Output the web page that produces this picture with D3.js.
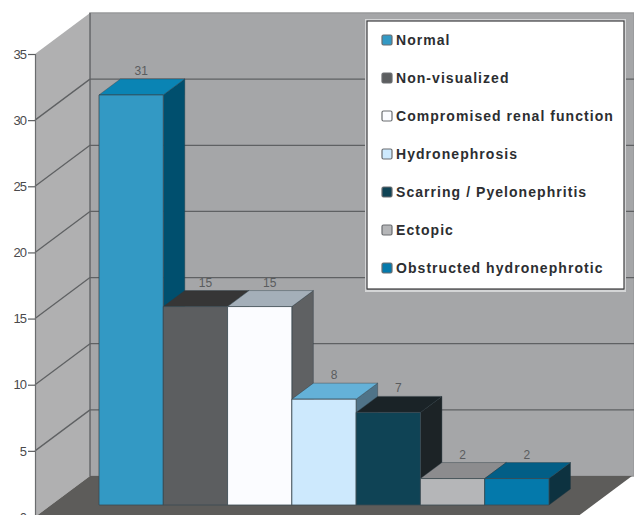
<!DOCTYPE html>
<html>
<head>
<meta charset="utf-8">
<script src="https://cdn.jsdelivr.net/npm/d3@7/dist/d3.min.js"></script>
<style>
html,body{margin:0;padding:0;background:#fff;overflow:hidden}
svg{display:block}
</style>
</head>
<body>
<svg id="chart" width="634" height="515"></svg>
<script>
const categories = ["Normal","Non-visualized","Compromised renal function","Hydronephrosis","Scarring / Pyelonephritis","Ectopic","Obstructed hydronephrotic"];
const counts = [31,15,15,8,7,2,2];
const axisTicks = [0,5,10,15,20,25,30,35];

const frontColors = ["#3399c4","#5c5e60","#fbfcff","#cde9fd","#0f4355","#b5b6b8","#0479ab"];
const topColors   = ["#0a84b4","#363636","#a4afb9","#64b1d8","#1a2327","#8c8c8e","#025e86"];
const sideColors  = ["#004f6e","#2c2d2e","#5f6163","#4f7388","#1c2326","#6a6a6c","#0d3240"];

const svg = d3.select("#chart");

// Wall scale runs along the front edge of the side wall; the back wall is that scale shifted by the depth.
const wallY = d3.scaleLinear().domain([0,35]).range([517,54]);
const wallDepth = {x:55, y:-41};
const barY = d3.scaleLinear().domain([0,35]).range([505,42]);
const barX = d3.scaleBand().domain(categories).range([99,549]);
const barDepth = {x:21.5, y:-16};
const frontLeft = 35, frontRight = 577;

const poly = (pts, fill, stroke, sw) => svg.append("polygon")
  .attr("points", pts.map(p => p.join(",")).join(" "))
  .attr("fill", fill).attr("stroke", stroke || "none").attr("stroke-width", sw || 0);

const backX = frontLeft + wallDepth.x;
const backBase = wallY(0) + wallDepth.y;
const backTop = wallY(35) + wallDepth.y;

// Back wall, side wall and floor
poly([[backX,backTop],[634,backTop],[634,backBase],[backX,backBase]], "#a5a6a8", "#98999b", 1.5);
poly([[frontLeft,wallY(35)],[backX,backTop],[backX,backBase],[frontLeft,wallY(0)]], "#b0b0b1");
poly([[frontLeft,wallY(0)],[backX,backBase],[frontRight+wallDepth.x,backBase],[frontRight,wallY(0)]], "#5d5c5a");

// Gridlines across the back wall and down the side wall
const grid = svg.append("g").attr("stroke","#5f6163").attr("stroke-width",1.3).attr("fill","none");
axisTicks.filter(t => t > 0 && t < 35).forEach(t => {
  const y = wallY(t);
  grid.append("line").attr("x1",frontLeft).attr("y1",y).attr("x2",backX).attr("y2",y+wallDepth.y);
  grid.append("line").attr("x1",backX).attr("y1",y+wallDepth.y).attr("x2",634).attr("y2",y+wallDepth.y);
});
grid.append("line").attr("x1",backX).attr("y1",backTop).attr("x2",backX).attr("y2",backBase);

// Value axis on the front edge of the side wall
const axis = svg.append("g").attr("transform",`translate(${frontLeft},0)`)
  .call(d3.axisLeft(wallY).tickValues(axisTicks).tickSize(7).tickPadding(2));
axis.select(".domain").attr("stroke","#6a6c6e").attr("stroke-width",1.2);
axis.selectAll(".tick line").attr("stroke","#5c5e60").attr("stroke-width",1.2);
axis.selectAll("text").attr("fill","#4a4a4c").style("font-family","'Liberation Sans',sans-serif")
  .style("font-size","13px").style("letter-spacing","-1px");

// Extruded bars, drawn left to right so nearer faces overlap correctly
categories.forEach((c,i) => {
  const x0 = barX(c), x1 = x0 + barX.bandwidth();
  const yT = barY(counts[i]), yB = barY(0);
  const dx = barDepth.x, dy = barDepth.y;
  poly([[x1,yT],[x1+dx,yT+dy],[x1+dx,yB+dy],[x1,yB]], sideColors[i], "#2a3a42", 0.4);
  poly([[x0,yT],[x0+dx,yT+dy],[x1+dx,yT+dy],[x1,yT]], topColors[i], "#2a3a42", 0.4);
  poly([[x0,yT],[x1,yT],[x1,yB],[x0,yB]], frontColors[i], "#3b4a52", 0.8);
});

// Value labels above each bar
svg.append("g").selectAll("text").data(categories).join("text")
  .attr("x", c => barX(c) + barX.bandwidth()/2 + 10)
  .attr("y", (c,i) => barY(counts[i]) - 20)
  .attr("text-anchor","middle")
  .attr("fill","#5a5c5e")
  .style("font-family","'Liberation Sans',sans-serif")
  .style("font-size","12px")
  .text((c,i) => counts[i]);

// Legend box with its pale outer edge
const legend = svg.append("g");
legend.append("rect").attr("x",366).attr("y",20).attr("width",259).attr("height",271)
  .attr("fill","none").attr("stroke","#d4d5d6").attr("stroke-width",2);
legend.append("rect").attr("x",367).attr("y",21).attr("width",257).attr("height",268)
  .attr("fill","#fff").attr("stroke","#3c3d3f").attr("stroke-width",1.2);
const legendY = d3.scalePoint().domain(categories).range([40,268]);
const rows = legend.selectAll("g").data(categories).join("g")
  .attr("transform", c => `translate(382,${legendY(c)})`);
rows.append("rect").attr("x",0).attr("y",-5).attr("width",10).attr("height",10).attr("rx",1.5)
  .attr("fill",(c,i) => frontColors[i]).attr("stroke","#6a6d70").attr("stroke-width",1.2);
rows.append("text").attr("x",14).attr("y",5)
  .attr("fill","#2c2e31")
  .style("font-family","'Liberation Sans',sans-serif")
  .style("font-weight","700").style("font-size","14px").style("letter-spacing","1.05px")
  .text(c => c);
</script>
</body>
</html>
